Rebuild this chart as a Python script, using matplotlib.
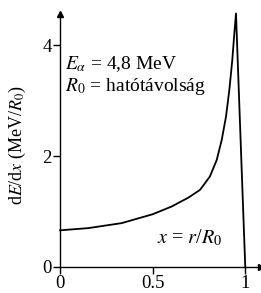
import matplotlib
matplotlib.use("Agg")
import matplotlib.pyplot as plt

# Bragg curve of a 4.8 MeV alpha particle
x_vals = [0.0, 0.153, 0.333, 0.50, 0.603, 0.693, 0.756, 0.809, 0.846,
          0.873, 0.896, 0.914, 0.930, 0.941, 0.950, 0.986, 1.0]
dedx_vals = [0.66, 0.70, 0.79, 0.95, 1.09, 1.25, 1.39, 1.63, 1.93,
             2.29, 2.71, 3.19, 3.73, 4.21, 4.57, 1.27, 0.0]

x_ticks = [0, 0.5, 1]
x_tick_labels = ["0", "0.5", "1"]
y_ticks = [0, 2, 4]
y_tick_labels = ["0", "2", "4"]

plt.rcParams["font.family"] = ["Liberation Serif", "DejaVu Serif"]
plt.rcParams["mathtext.fontset"] = "stix"

fig = plt.figure(figsize=(2.61, 2.93), dpi=100)
ax = fig.add_axes([0.23, 0.089, 0.77, 0.863])

ax.plot(x_vals, dedx_vals, color="black", lw=1.3, clip_on=False)

ax.set_xlim(0, 1.085)
ax.set_ylim(0, 4.56)
for side in ("top", "right"):
    ax.spines[side].set_visible(False)
for side in ("left", "bottom"):
    ax.spines[side].set_linewidth(1.0)

# arrow heads on the axes
ax.plot(1, 0, ">k", ms=4, transform=ax.get_yaxis_transform(), clip_on=False)
ax.plot(0, 1, "^k", ms=4, transform=ax.get_xaxis_transform(), clip_on=False)

ax.set_xticks(x_ticks)
ax.set_xticklabels(x_tick_labels)
ax.set_yticks(y_ticks)
ax.set_yticklabels(y_tick_labels)
ax.tick_params(direction="out", length=5, width=1.0, pad=1.0, labelsize=13.5)

ax.set_ylabel(r"d$E$/d$x$ (MeV/$R_0$)", fontsize=13)
ax.yaxis.set_label_coords(-0.16, 0.482)

ax.text(0.027, 3.56, r"$E_\alpha$ = 4,8 MeV", fontsize=14, va="baseline")
ax.text(0.027, 3.17, r"$R_0$ = hatótávolság", fontsize=14, va="baseline")
ax.text(0.523, 0.43, r"$x$ = $r$/$R_0$", fontsize=14.5, va="baseline")

fig.savefig("out.png", dpi=100)
